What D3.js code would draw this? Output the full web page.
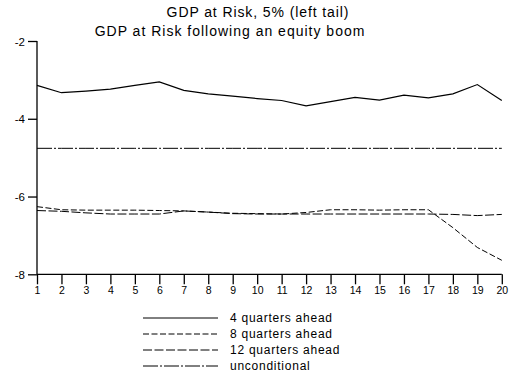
<!DOCTYPE html>
<html>
<head>
<meta charset="utf-8">
<script src="https://cdn.jsdelivr.net/npm/d3@7"></script>
<style>
  html, body { margin: 0; padding: 0; background: #fff; }
  svg { display: block; font-family: "Liberation Sans", Arial, sans-serif; }
</style>
</head>
<body>
<svg id="chart" width="512" height="378"></svg>
<script>
// Horizon (quarters) on the x axis
const quarters = d3.range(1, 21);
const yTicks = [-2, -4, -6, -8];

// GDP at risk (5% quantile) by horizon
const ahead4  = [-3.14, -3.33, -3.29, -3.24, -3.14, -3.05, -3.27, -3.36, -3.42, -3.48,
                 -3.53, -3.67, -3.56, -3.45, -3.52, -3.39, -3.46, -3.36, -3.12, -3.53];
const ahead8  = [-6.26, -6.34, -6.35, -6.35, -6.35, -6.36, -6.37, -6.40, -6.43, -6.44,
                 -6.45, -6.41, -6.34, -6.34, -6.35, -6.34, -6.34, -6.80, -7.31, -7.64];
const ahead12 = [-6.36, -6.38, -6.42, -6.45, -6.45, -6.45, -6.37, -6.40, -6.44, -6.45,
                 -6.45, -6.45, -6.45, -6.45, -6.45, -6.45, -6.45, -6.46, -6.49, -6.46];
const uncond  = [-4.76, -4.76, -4.76, -4.76, -4.76, -4.76, -4.76, -4.76, -4.76, -4.76,
                 -4.76, -4.76, -4.76, -4.76, -4.76, -4.76, -4.76, -4.76, -4.76, -4.76];

const seriesNames = ["4 quarters ahead", "8 quarters ahead", "12 quarters ahead", "unconditional"];
const seriesValues = [ahead4, ahead8, ahead12, uncond];
const seriesDash = [null, "6,2.5", "9,2.5", "15,2,2,2"];

const svg = d3.select("#chart");
const x = d3.scaleLinear().domain([1, 20]).range([37, 501.8]);
const y = d3.scaleLinear().domain([-8, -2]).range([274.3, 41]);

// Titles
svg.append("text").attr("x", 258).attr("y", 17).attr("text-anchor", "middle")
  .attr("font-size", 14).attr("letter-spacing", 0.9).attr("fill", "#000")
  .text("GDP at Risk, 5% (left tail)");
svg.append("text").attr("x", 230).attr("y", 36).attr("text-anchor", "middle")
  .attr("font-size", 14).attr("letter-spacing", 1.0).attr("fill", "#000")
  .text("GDP at Risk following an equity boom");

// Axes
const xAxis = d3.axisBottom(x).tickValues(quarters).tickFormat(d3.format("d"))
  .tickSize(10).tickPadding(2);
const yAxis = d3.axisLeft(y).tickValues(yTicks).tickFormat(d => String(d))
  .tickSize(9).tickPadding(3);

const gx = svg.append("g").attr("transform", `translate(0,${y(-8)})`).call(xAxis);
const gy = svg.append("g").attr("transform", `translate(${x(1)},0)`).call(yAxis);
[gx, gy].forEach(g => {
  g.select(".domain").attr("stroke", "#000").attr("stroke-width", 1.3);
  g.selectAll(".tick line").attr("stroke", "#000").attr("stroke-width", 1.3);
  g.selectAll("text").attr("fill", "#000").attr("font-family", "Liberation Sans, Arial, sans-serif");
});
gx.select(".domain").attr("d", `M${x(1)},0H${x(20)}`);
gy.select(".domain").attr("d", `M0,${y(-2)}V${y(-8)}`);
gx.selectAll("text").attr("font-size", 10.5);
gy.selectAll("text").attr("font-size", 11.5).attr("dy", "0.35em");

// Series lines
const line = d3.line().x((d, i) => x(quarters[i])).y(d => y(d));
seriesValues.forEach((vals, k) => {
  svg.append("path").datum(vals)
    .attr("d", line)
    .attr("fill", "none")
    .attr("stroke", "#000")
    .attr("stroke-width", k === 0 ? 1.2 : 1)
    .attr("stroke-dasharray", seriesDash[k]);
});

// Legend
const legend = svg.append("g");
seriesNames.forEach((name, k) => {
  const ly = 318 + k * 16;
  legend.append("line").attr("x1", 143).attr("x2", 218).attr("y1", ly).attr("y2", ly)
    .attr("stroke", "#000").attr("stroke-width", 1)
    .attr("stroke-dasharray", seriesDash[k]);
  legend.append("text").attr("x", 230).attr("y", ly).attr("dy", "0.35em")
    .attr("font-size", 12).attr("letter-spacing", 0.75).attr("fill", "#000").text(name);
});
</script>
</body>
</html>
